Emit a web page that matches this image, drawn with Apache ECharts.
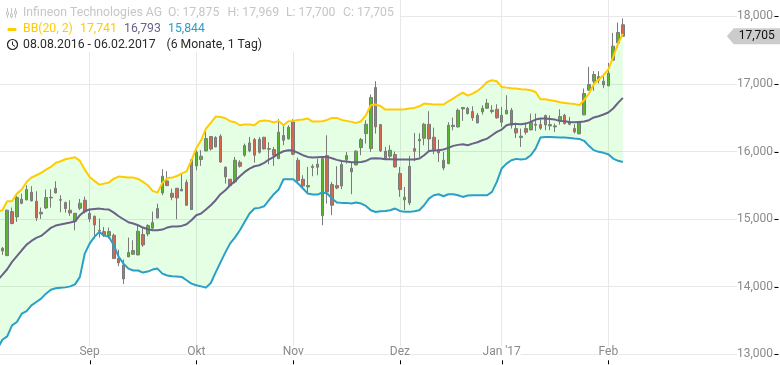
<!DOCTYPE html>
<html><head><meta charset="utf-8">
<style>html,body{margin:0;padding:0;background:#fff}#c{width:780px;height:365px}</style>
<script src="https://cdn.jsdelivr.net/npm/echarts@6/dist/echarts.min.js"></script>
</head><body><div id="c"></div>
<script>
const open_=[null,14569,14460,15111,15032,15234,15284,15397,15264,15077,15165,15313,15456,15279,15244,15131,14968,15160,15279,15086,15042,14825,14815,14751,14761,14421,14115,14441,14480,14470,14771,14781,14865,15017,15387,15565,15382,15456,15417,15545,15141,15787,
15881,16009,16221,16068,16226,15767,15590,15550,15841,15945,16009,16176,15989,16211,16033,16028,15895,16166,16186,16438,15871,15590,15476,15762,15767,15052,15940,15511,15496,15491,15881,15698,15802,
16058,16265,16043,16946,16398,15900,15930,15955,15674,15284,15240,16043,16157,16196,16403,16211,16029,15871,15821,16369,16364,16630,16561,16591,16423,16586,16640,16591,16625,16433,16556,
16610,16339,16206,16339,16319,16388,16398,16393,16379,16364,16448,16536,16403,16340,16261,16542,16907,17040,17109,17040,16971,17351,17607,17875];
const close_=[null,14529,15131,14934,15318,15294,15437,15269,15017,15101,15318,15323,15387,15289,15156,15091,15086,15234,15106,15003,14914,14835,14761,14815,14416,14352,14322,14505,14534,14820,14618,14904,14949,15156,15634,15496,15323,15313,15441,15205,15880,15989,
15930,16191,16038,16206,15846,15624,15496,15871,15782,16088,16127,15945,16181,16038,16043,15945,16285,16236,16359,15959,15570,15491,15496,15782,15812,15895,15402,15205,15461,15807,15940,15752,16004,
16176,16403,16798,16364,16009,16004,16019,15772,15437,15324,15782,16004,16181,16403,16186,16029,15979,15757,16388,16388,16610,16650,16640,16497,16536,16640,16714,16610,16497,16536,16610,
16388,16275,16226,16285,16428,16403,16344,16531,16398,16379,16517,16413,16438,16291,16429,16858,16991,17139,17055,16986,17158,17558,17760,17705];
const low_=[null,14470,14451,14924,14958,15220,15279,15264,14973,15003,15151,15170,15382,15101,15096,15047,14835,15131,15082,14958,14712,14727,14737,14712,14411,14303,14041,14441,14470,14465,14589,14746,14860,15013,15353,15486,15279,14998,15417,15195,15136,15723,
15787,16004,16014,16063,15831,15526,15476,15526,15762,15920,15989,15836,15969,16028,15812,15787,15886,16093,16176,15945,15550,15476,15393,15634,15649,14909,15230,15057,15442,15442,15821,15368,15792,
15945,16117,15994,16265,15994,15886,15900,15762,15329,15131,15205,15856,15920,16093,16009,15960,15846,15723,15812,16314,16354,16453,16546,16453,16418,16546,16635,16561,16487,16364,16556,
16339,16201,16068,16250,16314,16305,16319,16314,16314,16290,16398,16398,16388,16266,16256,16537,16897,16897,17006,16936,16966,17341,17533,17700];
const high_=[null,14589,15141,15170,15353,15377,15501,15486,15412,15170,15437,15441,15560,15353,15259,15279,15086,15299,15333,15156,15052,15008,14884,14875,14786,14549,14401,14727,14687,14924,14875,14924,15111,15229,15737,15708,15451,15461,15673,15584,15885,16018,
16019,16324,16226,16226,16255,15782,15590,15920,15871,16117,16216,16201,16216,16216,16137,16068,16477,16378,16388,16477,15910,15649,15772,15812,15895,15925,16240,15550,15782,15846,15994,15846,16019,
16201,16462,16842,17039,16398,16068,16093,16000,15772,15476,15935,16275,16270,16423,16596,16354,16176,15994,16433,16502,16635,16660,16660,16669,16571,16684,16778,16684,16699,16660,16832,
16645,16428,16339,16428,16561,16561,16487,16546,16536,16413,16625,16556,16512,16404,16439,16932,17252,17188,17188,17114,17311,17755,17908,17969];
const bbUpper=[15111,15131,15264,15264,15377,15437,15550,15614,15649,15683,15732,15772,15831,15856,15885,15900,15915,15861,15732,15624,15565,15510,15525,15540,15599,15629,15624,15614,15614,15594,15550,15501,15417,15392,15534,15603,15614,15637,15677,15707,15870,16047,
16166,16339,16423,16517,16512,16492,16448,16433,16388,16398,16398,16388,16448,16457,16453,16428,16453,16388,16448,16453,16467,16472,16487,16443,16443,16448,16467,16497,16497,16467,16453,16438,16423,16448,
16536,16684,16694,16674,16620,16620,16620,16620,16625,16635,16645,16669,16709,16704,16694,16694,16694,16743,16783,16832,16872,16827,16857,16896,16955,17029,17054,17039,16955,16945,
16936,16931,16921,16916,16906,16881,16773,16773,16758,16748,16729,16719,16709,16704,16684,16759,16858,16996,17065,17129,17213,17400,17597,17741];
const bbMiddle=[14096,14174,14258,14367,14451,14539,14623,14677,14722,14751,14810,14870,14904,14919,14934,14949,14968,15057,15121,15141,15151,15155,15146,15141,15096,15042,14998,14953,14934,14909,14875,14850,14835,14835,14845,14875,14889,14889,14899,14924,14983,15057,
15082,15141,15205,15279,15368,15427,15501,15565,15634,15698,15747,15782,15797,15831,15881,15920,15969,16004,16019,16014,15979,15945,15920,15910,15915,15920,15920,15900,15876,15861,15851,15841,15841,15846,
15861,15895,15900,15895,15885,15885,15881,15881,15881,15881,15881,15895,15945,16009,16014,16019,16029,16053,16083,16098,16107,16093,16117,16137,16167,16191,16240,16290,16324,16388,
16408,16408,16403,16413,16438,16472,16487,16487,16482,16472,16453,16448,16438,16433,16438,16443,16463,16503,16522,16547,16577,16636,16720,16793];
const bbLower=[13083,13216,13266,13428,13478,13601,13640,13724,13774,13823,13897,13956,13976,13986,13990,14005,14035,14145,14490,14638,14737,14810,14756,14737,14613,14441,14342,14268,14239,14239,14209,14224,14253,14268,14194,14165,14155,14150,14145,14096,14046,14022,
14005,13986,14055,14212,14360,14508,14641,14730,14835,14959,15082,15156,15166,15190,15279,15368,15437,15590,15590,15590,15526,15452,15378,15363,15363,15393,15378,15304,15245,15240,15240,15230,15245,15230,
15195,15131,15106,15116,15121,15131,15156,15121,15107,15107,15117,15131,15205,15304,15353,15368,15338,15368,15368,15353,15328,15348,15353,15353,15353,15353,15402,15550,15748,15821,
15871,15891,15881,15891,15945,16043,16206,16216,16216,16211,16206,16206,16201,16191,16186,16158,16084,16020,15995,15980,15960,15896,15862,15844];
const monthTicks={19:'Sep',41:'Okt',61:'Nov',83:'Dez',104:"Jan '17",126:'Feb'};
const yTicks={min:13000,max:19000,step:1000};
const priceLevels=[13000,14000,15000,16000,17000,18000];
const lastPrice=17705, lastLabel='17,705';
const SLOTS=162;
const categories=Array.from({length:SLOTS},(_,i)=>monthTicks[i]||('d'+i));
const isMonth=(i)=>monthTicks[i]!==undefined;
const candles=open_.map((o,i)=>o===null?'-':[o,close_[i],low_[i],high_[i]]);
const bandSpan=bbUpper.map((u,i)=>u-bbLower[i]);
const F='Roboto, "Liberation Sans", sans-serif';
const GREY='#c6c6c6',YEL='#ffcc00',PUR='#6b6288',BLU='#2a9fc8',INK='#2b2b2b';
const T=(x,y,text,fill)=>({type:'text',x,y,z:100,style:{text,fill,font:'12.25px '+F,textVerticalAlign:'middle'}});
const chart=echarts.init(document.getElementById('c'),null,{renderer:'canvas'});
const line=(name,data,color)=>({name,type:'line',data,symbol:'none',z:5,silent:true,
  lineStyle:{color,width:2,join:'round'},itemStyle:{color}});
chart.setOption({
  animation:false,
  backgroundColor:'#fff',
  grid:{left:-2.5,right:2,top:-51.3,height:405.6,containLabel:false,outerBoundsMode:'none'},
  xAxis:{type:'category',data:categories,boundaryGap:false,position:'bottom',offset:6,
    axisLine:{show:false,onZero:false},
    axisTick:{show:false},
    splitLine:{show:true,interval:(i)=>isMonth(i),lineStyle:{color:'#e8e8e8',width:1}},
    axisLabel:{show:true,interval:(i)=>isMonth(i),margin:-14,color:'#8a8a8a',fontFamily:F,fontSize:12,
      backgroundColor:'#fff',hideOverlap:false}},
  yAxis:{type:'value',position:'right',min:yTicks.min,max:yTicks.max,interval:yTicks.step,
    axisLine:{show:false,onZero:false},
    axisTick:{show:false},
    splitLine:{show:true,lineStyle:{color:'#e8e8e8',width:1}},
    axisLabel:{inside:true,margin:5,color:'#8a8a8a',fontFamily:F,fontSize:12,backgroundColor:'#fff',
      formatter:(v)=>v.toLocaleString('en-US')}},
  series:[
    {name:'base',type:'line',stack:'bb',data:bbLower,symbol:'none',z:1,silent:true,lineStyle:{width:0}},
    {name:'span',type:'line',stack:'bb',data:bandSpan,symbol:'none',z:1,silent:true,lineStyle:{width:0},
      areaStyle:{color:'rgba(0,255,0,0.1)',opacity:1}},
    {name:'Infineon',type:'candlestick',data:candles,z:3,barWidth:3,silent:true,
      itemStyle:{color:'#58b52e',color0:'#d9654a',borderColor:'#7a7a7a',borderColor0:'#7a7a7a',borderWidth:1},
      markPoint:{silent:true,animation:false,symbol:'path://M0 8 L7 0 L54 0 L54 16 L7 16 Z',symbolSize:[54,16],symbolKeepAspect:false,
        itemStyle:{color:'#cccccc'},
        label:{show:true,position:'inside',offset:[3,0],formatter:lastLabel,color:'#111',fontFamily:F,fontSize:12},
        data:[{coord:[156,lastPrice]}]}},
    line('BB middle',bbMiddle,PUR),
    line('BB lower',bbLower,BLU),
    line('BB upper',bbUpper,YEL),
    {name:'xTicks',type:'custom',z:20,silent:true,clip:false,
      data:Object.keys(monthTicks).map(k=>[Number(k),yTicks.min]),encode:{x:0,y:1},
      renderItem:(p,api)=>{const c=api.coord([api.value(0),api.value(1)]);const x=Math.round(c[0])+0.5;const y=c[1];
        return {type:'line',shape:{x1:x,y1:y+6,x2:x,y2:y+10},style:{stroke:'#000',lineWidth:1,fill:null}};}},
    {name:'yTicks',type:'custom',z:20,silent:true,clip:false,
      data:priceLevels.map(v=>[SLOTS-1,v]),encode:{x:0,y:1},
      renderItem:(p,api)=>{const c=api.coord([api.value(0),api.value(1)]);const y=Math.round(c[1])+0.5;
        return {type:'line',shape:{x1:c[0]-3.5,y1:y,x2:c[0]+0.5,y2:y},style:{stroke:'#000',lineWidth:1,fill:null}};}}
  ],
  graphic:[
    {type:'rect',z:90,shape:{x:0,y:0,width:400,height:52},style:{fill:'rgba(255,255,255,0.92)'}},
    {type:'line',z:100,shape:{x1:7.5,y1:8,x2:7.5,y2:18},style:{stroke:GREY}},
    {type:'line',z:100,shape:{x1:11.5,y1:8,x2:11.5,y2:18},style:{stroke:GREY}},
    {type:'line',z:100,shape:{x1:15.5,y1:8,x2:15.5,y2:18},style:{stroke:GREY}},
    {type:'rect',z:101,shape:{x:6.5,y:12,width:2,height:3},style:{fill:'#fff',stroke:GREY}},
    {type:'rect',z:101,shape:{x:10.5,y:14,width:2,height:3},style:{fill:'#fff',stroke:GREY}},
    {type:'rect',z:101,shape:{x:14.5,y:11,width:2,height:3},style:{fill:'#fff',stroke:GREY}},
    T(23,12.7,'Infineon Technologies AG',GREY),
    T(168,12.7,'O: 17,875',GREY),T(227.5,12.7,'H: 17,969',GREY),T(286,12.7,'L: 17,700',GREY),T(343,12.7,'C: 17,705',GREY),
    {type:'rect',z:100,shape:{x:7.5,y:28,width:9,height:3,r:1},style:{fill:YEL}},
    T(23,29,'BB(20, 2)',YEL),T(80,29,'17,741',YEL),T(124,29,'16,793',PUR),T(168,29,'15,844',BLU),
    {type:'circle',z:100,shape:{cx:12.5,cy:44.5,r:5},style:{fill:'none',stroke:'#222',lineWidth:1.2}},
    {type:'polyline',z:100,shape:{points:[[12.5,41.5],[12.5,44.8],[15,46.3]]},style:{fill:'none',stroke:'#222',lineWidth:1}},
    T(23,44.5,'08.08.2016 - 06.02.2017',INK),T(166.5,44.5,'(6 Monate, 1 Tag)',INK)
  ]
});
</script></body></html>
